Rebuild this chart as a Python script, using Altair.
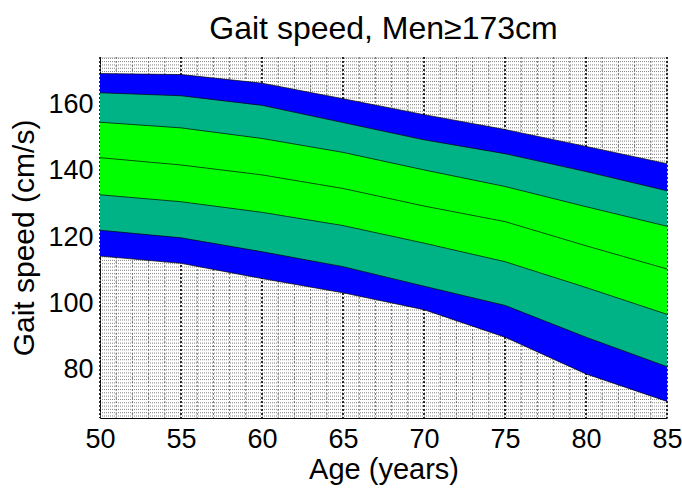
import altair as alt
import numpy as np
import pandas as pd

# Age grid (years) and gait-speed percentile curves (cm/s)
ages = [50, 55, 60, 65, 70, 75, 80, 85]
p97 = [169.4, 169.1, 166.5, 161.8, 157.0, 152.5, 147.4, 142.2]
p90 = [163.6, 162.7, 159.8, 154.6, 149.4, 145.2, 139.8, 134.0]
p75 = [154.7, 153.0, 149.8, 145.6, 140.3, 135.3, 129.2, 123.3]
p50 = [144.0, 141.8, 138.8, 134.7, 129.4, 124.7, 117.4, 110.4]
p25 = [132.8, 130.7, 127.5, 123.5, 118.2, 112.6, 104.8, 96.7]
p10 = [122.1, 119.8, 115.6, 111.1, 105.2, 99.4, 89.8, 80.9]
p03 = [114.3, 112.1, 107.5, 103.2, 98.1, 89.8, 78.7, 70.4]

x_ticks = [50, 55, 60, 65, 70, 75, 80, 85]
y_ticks = [80, 100, 120, 140, 160]

df = pd.DataFrame({
    "age": ages, "p97": p97, "p90": p90, "p75": p75, "p50": p50,
    "p25": p25, "p10": p10, "p03": p03,
})

FONT = "Liberation Sans"
X_DOM = [50, 85]
Y_DOM = [65.4, 174.4]

xs = alt.Scale(domain=X_DOM, nice=False)
ys = alt.Scale(domain=Y_DOM, nice=False, zero=False)

# minor grid positions
x_minor = pd.DataFrame({"gx": np.arange(50, 85.01, 1.0)})
y_minor = pd.DataFrame({"gy": np.arange(66, 174.01, 1.0)})
x_major = pd.DataFrame({"gx": x_ticks})

base = alt.Chart(df)

# axes (labels only) carried by an invisible layer
axes = base.mark_point(opacity=0).encode(
    x=alt.X("age:Q", scale=xs,
            axis=alt.Axis(values=x_ticks, grid=False, title="Age (years)",
                          labelFontSize=27, titleFontSize=29, labelFont=FONT,
                          titleFont=FONT, titleFontWeight="normal",
                          labelColor="#000", titleColor="#000",
                          labelPadding=8, titlePadding=3, ticks=False,
                          domainColor="#000", labelFlush=False)),
    y=alt.Y("p50:Q", scale=ys,
            axis=alt.Axis(values=y_ticks, grid=False, title="Gait speed (cm/s)",
                          labelFontSize=27, titleFontSize=30, labelFont=FONT,
                          titleFont=FONT, titleFontWeight="normal",
                          labelColor="#000", titleColor="#000",
                          labelPadding=7, titlePadding=8, ticks=False,
                          domainColor="#000")),
)

h_grid = alt.Chart(y_minor).mark_rule(
    color="#808080", strokeWidth=1, strokeDash=[1, 1]
).encode(y=alt.Y("gy:Q", scale=ys))

v_grid = alt.Chart(x_minor).mark_rule(
    color="#6e6e6e", strokeWidth=1, strokeDash=[2, 2]
).encode(x=alt.X("gx:Q", scale=xs))

v_major = alt.Chart(x_major).mark_rule(
    color="#000000", strokeWidth=1.5, strokeDash=[2, 2]
).encode(x=alt.X("gx:Q", scale=xs))


def band(lo, hi, color):
    return base.mark_area(color=color, opacity=1, interpolate="linear").encode(
        x=alt.X("age:Q", scale=xs),
        y=alt.Y(f"{lo}:Q", scale=ys),
        y2=f"{hi}:Q",
    )


outer = band("p03", "p97", "#0000ff")
mid = band("p10", "p90", "#00b386")
inner = band("p25", "p75", "#00ff00")

lines = base.transform_fold(
    ["p97", "p90", "p75", "p50", "p25", "p10", "p03"], as_=["pct", "val"]
).mark_line(color="#000000", strokeWidth=0.8, opacity=0.85).encode(
    x=alt.X("age:Q", scale=xs),
    y=alt.Y("val:Q", scale=ys),
    detail="pct:N",
)

chart = alt.layer(axes, h_grid, v_grid, v_major, outer, mid, inner, lines).properties(
    width=567,
    height=361,
    title=alt.TitleParams("Gait speed, Men≥173cm", fontSize=32, font=FONT,
                          fontWeight="normal", color="#000", offset=10),
    autosize=alt.AutoSizeParams(type="none"),
    padding={"left": 100, "top": 57, "right": 15, "bottom": 70},
).configure_view(stroke="#000000", strokeWidth=1).configure(background="white")

chart.save("out.html", embed_options={"renderer": "svg", "actions": False})
